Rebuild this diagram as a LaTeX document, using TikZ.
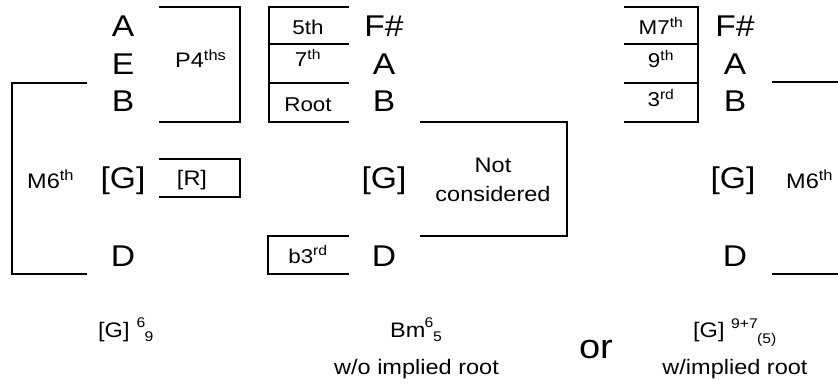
\documentclass[tikz,border=0pt]{standalone}
\usepackage{fontspec}
\setmainfont[FakeStretch=1.12]{Liberation Sans}
\usetikzlibrary{positioning}
\tikzset{
  note/.style={inner sep=0pt, anchor=base, font=\fontsize{30}{36}\selectfont},
  deg/.style={inner sep=0pt, anchor=base, font=\fontsize{20}{24}\selectfont},
  ivl/.style={inner sep=0pt, anchor=base, font=\fontsize{21}{28.7}\selectfont, align=center},
  scr/.style={inner sep=0pt, anchor=base, font=\fontsize{14}{16}\selectfont},
  bar/.style={line width=1.8pt}
}

\begin{document}
\begin{tikzpicture}[x=1pt, y=-1pt]
  \useasboundingbox (0,0) rectangle (838,385);
  % G 6/9 voicing
  \node[note] (a1) at (123,37) {A};
  \node[note] (e1) at (123,75) {E};
  \node[note] (b1) at (123,112) {B};
  \node[note] (g1) at (123,189) {[G]};
  \node[note] (d1) at (123,266) {D};
  \node[ivl, anchor=base west] (p4) at (175,68) {P4\textsuperscript{ths}};
  \node[ivl] (rr) at (192,185.5) {[R]};
  \node[ivl, anchor=base west] (m6l) at (27,188) {M6\textsuperscript{th}};
  \draw[bar] (159,6.7) -| (240,121.7) -- (159,121.7);
  \draw[bar] (159,159.3) -| (240,197.3) -- (159,197.3);
  \draw[bar] (87.3,82.7) -| (11.7,274) -- (87.3,274);
  % Bm without root
  \node[note] (fs2) at (384,37) {F\#};
  \node[note] (a2) at (384,75) {A};
  \node[note] (b2) at (384,112) {B};
  \node[note] (g2) at (384,189) {[G]};
  \node[note] (d2) at (384,266) {D};
  \node[deg] (d5) at (308,35) {5th};
  \node[deg] (d7) at (308,67) {7\textsuperscript{th}};
  \node[deg] (dr) at (308,112) {Root};
  \node[deg] (db3) at (308,263) {b3\textsuperscript{rd}};
  \node[ivl, anchor=center] (nc) at (493,180) {Not\\considered};
  \draw[bar] (349,6.7) -| (269,121.7) -- (349,121.7);
  \foreach \y in {44.3,82.7}
    \draw[bar] (269,\y) -- (349,\y);
  \draw[bar] (349,236) -| (268.3,274) -- (349,274);
  \draw[bar] (420,121.7) -| (566.7,235.7) -- (420,235.7);
  % G with implied root
  \node[note] (fs3) at (735,37) {F\#};
  \node[note] (a3) at (735,75) {A};
  \node[note] (b3) at (735,112) {B};
  \node[note] (g3) at (733,189) {[G]};
  \node[note] (d3) at (735,266) {D};
  \node[deg] (dm7) at (661,35) {M7\textsuperscript{th}};
  \node[deg] (d9) at (661,68) {9\textsuperscript{th}};
  \node[deg] (d3rd) at (661,107) {3\textsuperscript{rd}};
  \node[ivl, anchor=base west] (m6r) at (786,188) {M6\textsuperscript{th}};
  \draw[bar] (624,6.7) -| (698.3,121.7) -- (624,121.7);
  \foreach \y in {44.3,82.7}
    \draw[bar] (624,\y) -- (698.3,\y);
  \draw[bar] (771.7,81.7) -- (838,81.7);
  \draw[bar] (772,274) -- (838,274);
  % chord names
  \node[ivl, anchor=base west] (cg1) at (98,337) {[G]};
  \node[scr] (cg1s) at (141,327) {6};
  \node[scr] (cg1b) at (149,341) {9};
  \node[ivl, anchor=base west] (cbm) at (390,337) {Bm};
  \node[scr] (cbms) at (429,327) {6};
  \node[scr] (cbmb) at (437.5,341) {5};
  \node[ivl] (cwo) at (416.5,374) {w/o implied root};
  \node[note, font=\fontsize{34}{40}\selectfont] (or) at (596,358) {or};
  \node[ivl, anchor=base west] (cg3) at (693,337) {[G]};
  \node[scr, anchor=base west] (cg3s) at (731,328) {9+7};
  \node[scr, anchor=base west] (cg3b) at (757,343) {(5)};
  \node[ivl] (cw) at (735,374) {w/implied root};
\end{tikzpicture}
\end{document}
